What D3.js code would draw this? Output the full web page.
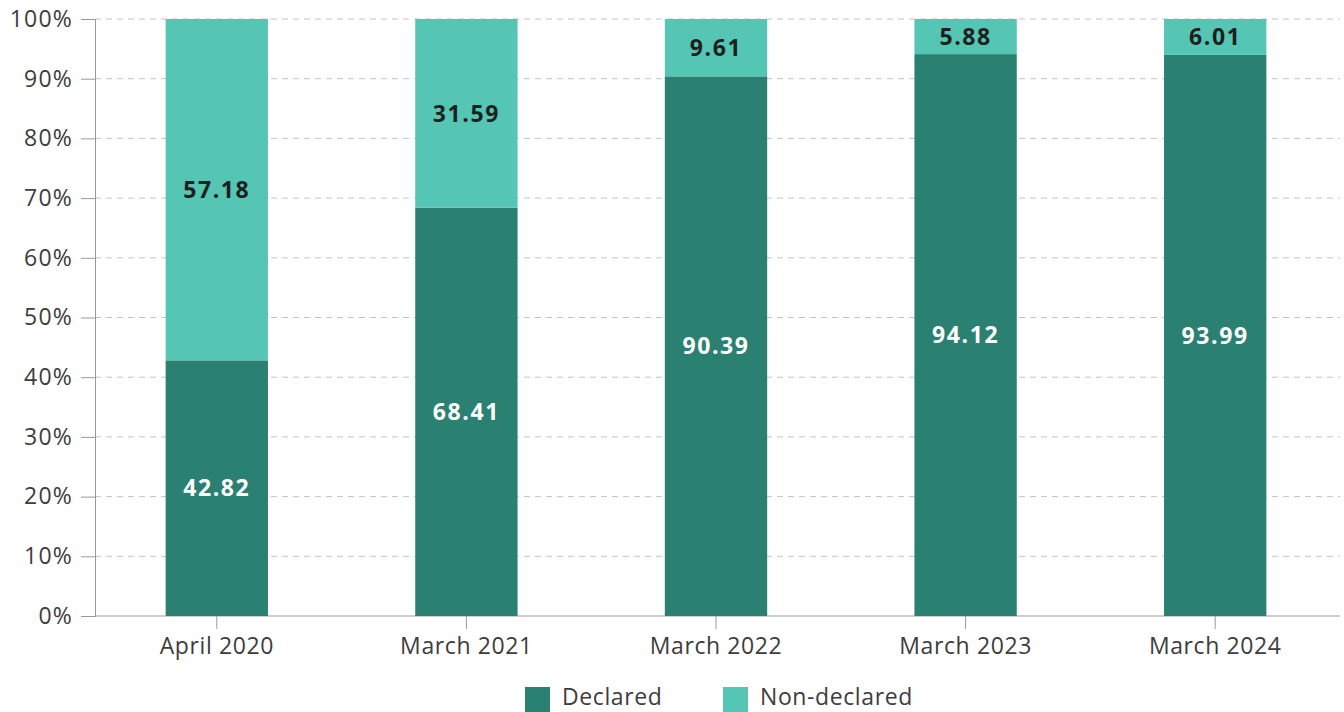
<!DOCTYPE html>
<html><head><meta charset="utf-8">
<script src="https://cdn.jsdelivr.net/npm/d3@7"></script>
<style>body{margin:0;background:#fff}svg{display:block}</style>
</head><body>
<svg id="c" width="1344" height="712"></svg>
<script>
const categories = ["April 2020","March 2021","March 2022","March 2023","March 2024"];
const declared = [42.82, 68.41, 90.39, 94.12, 93.99];
const nonDeclared = [57.18, 31.59, 9.61, 5.88, 6.01];
const yTicks = [0,10,20,30,40,50,60,70,80,90,100];
const seriesNames = ["Declared","Non-declared"];
const colors = ["#2a8172","#55c6b4"];

const svg = d3.select("#c");
const m = {l:95, r:4, t:19, b:96};
const W = 1344, H = 712;
const x = d3.scaleBand().domain(categories).range([m.l-3, W-m.r]).paddingInner(0.59).paddingOuter(0.295);
const y = d3.scaleLinear().domain([0,100]).range([H-m.b, m.t]);
const font = "'Open Sans', sans-serif";
const txt = "#3d3d3d";

// grid
svg.append("g").selectAll("line").data(yTicks.filter(d=>d>0)).join("line")
  .attr("x1", m.l).attr("x2", W-m.r).attr("y1", d=>y(d)).attr("y2", d=>y(d))
  .attr("stroke","#c4c4c4").attr("stroke-dasharray","6,5").attr("stroke-width",1);

// y axis
const ya = svg.append("g").attr("transform",`translate(${m.l},0)`)
  .call(d3.axisLeft(y).tickValues(yTicks).tickFormat(d=>d+"%").tickSize(14).tickPadding(8));
ya.select(".domain").attr("stroke","#999");
ya.selectAll(".tick line").attr("stroke","#999");
ya.selectAll("text").attr("font-family",font).attr("font-size",23).attr("fill",txt).attr("letter-spacing","1.2");

// x axis
const xa = svg.append("g").attr("transform",`translate(0,${y(0)})`)
  .call(d3.axisBottom(x).tickSize(13).tickPadding(9).tickSizeOuter(0));
xa.select(".domain").attr("stroke","#999").attr("d", `M${m.l},0H${W-m.r}`);
xa.selectAll(".tick line").attr("stroke","#999");
xa.selectAll("text").attr("font-family",font).attr("font-size",23).attr("fill",txt).attr("letter-spacing","0.6");

// bars
const stackData = categories.map((c,i)=>({cat:c, d:declared[i], n:nonDeclared[i]}));
const g = svg.append("g");
stackData.forEach(s=>{
  const x0 = x(s.cat), bw = x.bandwidth();
  g.append("rect").attr("x",x0).attr("width",bw).attr("y",y(s.d)).attr("height",y(0)-y(s.d)).attr("fill",colors[0]);
  g.append("rect").attr("x",x0).attr("width",bw).attr("y",y(s.d+s.n)).attr("height",y(s.d)-y(s.d+s.n)).attr("fill",colors[1]);
  g.append("text").attr("x",x0+bw/2).attr("y",(y(0)+y(s.d))/2).attr("dy","0.36em")
    .attr("text-anchor","middle").attr("font-family",font).attr("font-weight",700).attr("font-size",23)
    .attr("fill","#fff").attr("letter-spacing","1.6").text(s.d.toFixed(2));
  g.append("text").attr("x",x0+bw/2).attr("y",(y(s.d)+y(s.d+s.n))/2).attr("dy","0.36em")
    .attr("text-anchor","middle").attr("font-family",font).attr("font-weight",700).attr("font-size",23)
    .attr("fill","#1f1f1f").attr("letter-spacing","1.6").text(s.n.toFixed(2));
});

// legend
const lg = svg.append("g");
const legX = [525, 723];
seriesNames.forEach((n,i)=>{
  lg.append("rect").attr("x",legX[i]).attr("y",687).attr("width",25).attr("height",25).attr("fill",colors[i]);
  lg.append("text").attr("x",legX[i]+37).attr("y",705).attr("font-family",font)
    .attr("font-size",23).attr("fill",txt).attr("letter-spacing","0.6").text(n);
});
</script>
</body></html>
